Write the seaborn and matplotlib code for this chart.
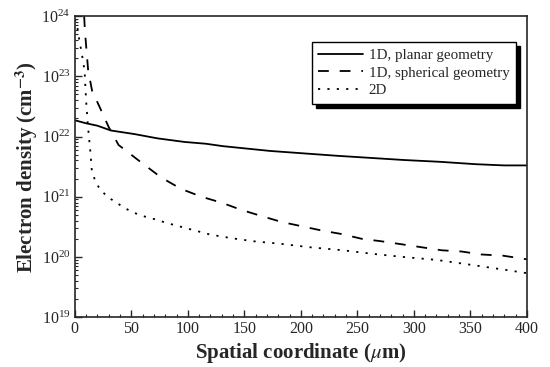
import numpy as np
import pandas as pd
import matplotlib
matplotlib.use("Agg")
import matplotlib.pyplot as plt
import matplotlib.ticker as mticker
import seaborn as sns

# values (x in um, y as log10 of density)
planar_x = [0, 10, 20, 32, 53, 73, 97, 116, 131, 173, 232, 291, 323, 355, 380, 400]
planar_log = [22.27, 22.22, 22.18, 22.10, 22.04, 21.97, 21.91, 21.88, 21.84, 21.76,
              21.68, 21.61, 21.58, 21.54, 21.52, 21.52]

spherical_x = [8.3, 8.6, 9.1, 10.5, 11.8, 15.3, 22.7, 29.9, 38.7, 58.7, 76.4, 94, 112,
               130, 147.5, 165, 183, 200.6, 218, 236, 254, 271, 289, 307, 324.5, 342,
               360, 379, 400]
spherical_log = [24.0, 23.88, 23.72, 23.4, 23.10, 22.76, 22.46, 22.16, 21.86, 21.57,
                 21.32, 21.13, 21.0, 20.9, 20.78, 20.68, 20.58, 20.51, 20.44, 20.38,
                 20.30, 20.26, 20.21, 20.16, 20.11, 20.09, 20.04, 20.02, 19.96]

twod_x = [0, 2, 4, 6, 8.6, 10, 11.5, 12.5, 14, 15, 18, 23, 32, 41, 50, 60, 70, 82, 94,
          110, 120, 139, 158, 181, 208, 237, 264, 290, 320, 350, 379, 400]
twod_log = [23.95, 23.85, 23.6, 23.4, 23.1, 22.6, 22.2, 22.0, 21.7, 21.45, 21.26, 21.1,
            20.96, 20.85, 20.75, 20.68, 20.63, 20.56, 20.5, 20.42, 20.37, 20.31, 20.26,
            20.22, 20.16, 20.11, 20.05, 20.0, 19.95, 19.87, 19.79, 19.73]

labels = ["1D, planar geometry", "1D, spherical geometry", "2D"]

sns.set_style("ticks")
plt.rcParams['font.family'] = ['Liberation Serif', 'DejaVu Serif']
plt.rcParams['mathtext.fontset'] = 'stix'

fig = plt.figure(figsize=(5.5, 3.67), dpi=100)
ax = fig.add_axes([0.136, 0.136, 0.822, 0.82])

series = [
    (planar_x, planar_log, labels[0], (None, None)),
    (spherical_x, spherical_log, labels[1], (6, 6)),
    (twod_x, twod_log, labels[2], (1.2, 4)),
]
for xs, logs, lab, dash in series:
    df = pd.DataFrame({'x': xs, 'n': 10.0 ** np.array(logs)})
    line_ax = sns.lineplot(data=df, x='x', y='n', ax=ax, color='black', lw=1.3,
                           label=lab, sort=False)
    if dash[0] is not None:
        line_ax.lines[-1].set_dashes(dash)

ax.set_yscale('log')
ax.set_xlim(0, 400)
ax.set_ylim(1e19, 1e24)
ax.xaxis.set_major_locator(mticker.MultipleLocator(50))
ax.xaxis.set_minor_locator(mticker.MultipleLocator(10))
ax.yaxis.set_major_locator(mticker.LogLocator(base=10, numticks=10))
ax.yaxis.set_minor_locator(mticker.LogLocator(base=10, subs=np.arange(2, 10), numticks=20))
ax.yaxis.set_minor_formatter(mticker.NullFormatter())
ax.tick_params(which='major', direction='in', length=5, width=1, labelsize=11.5, pad=3)
ax.tick_params(which='minor', direction='in', length=2.5, width=0.8)
for s in ax.spines.values():
    s.set_linewidth(1.2)

ax.set_xlabel(r'Spatial coordinate ($\mu$m)', fontsize=15, fontweight='bold', labelpad=3)
ax.set_ylabel(r'Electron density (cm$^{\mathbf{-3}}$)', fontsize=15, fontweight='bold',
              labelpad=1)

leg = ax.legend(loc='upper right', bbox_to_anchor=(0.976, 0.914), borderaxespad=0,
                frameon=True, fancybox=False,
                shadow={'color': 'black', 'alpha': 1, 'ox': 3, 'oy': -3},
                fontsize=10.8, handlelength=3.0, borderpad=0.45, labelspacing=0.25,
                handletextpad=0.35)
leg.get_frame().set_edgecolor('black')
leg.get_frame().set_linewidth(1.0)
leg.get_frame().set_alpha(1)

fig.savefig('out.png', dpi=100)
